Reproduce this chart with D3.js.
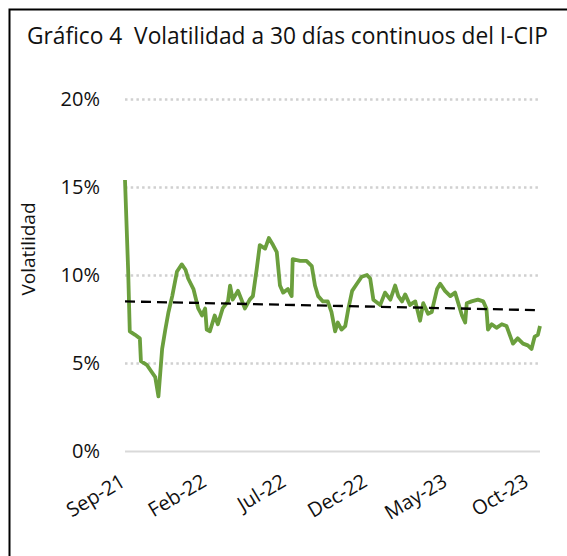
<!DOCTYPE html>
<html>
<head>
<meta charset="utf-8">
<script src="https://cdn.jsdelivr.net/npm/d3@7"></script>
<style>
  html, body { margin: 0; padding: 0; background: #fff; }
  svg { display: block; font-family: "Open Sans", "Noto Sans", sans-serif; }
</style>
</head>
<body>
<div id="chart"></div>
<script>
const width = 567;
const height = 556;

// series: 30-day volatility of the I-CIP (%)
const volDates = [
  "2021-09-01","2021-09-07","2021-09-10","2021-09-20","2021-09-29","2021-10-01","2021-10-12","2021-10-21",
  "2021-10-28","2021-11-03","2021-11-10","2021-11-16","2021-11-22","2021-11-29","2021-12-08","2021-12-17",
  "2021-12-24","2021-12-29","2022-01-08","2022-01-17","2022-01-24","2022-01-30","2022-02-02","2022-02-08",
  "2022-02-17","2022-02-23","2022-03-04","2022-03-14","2022-03-18","2022-03-23","2022-04-02","2022-04-15",
  "2022-04-24","2022-04-30","2022-05-07","2022-05-13","2022-05-23","2022-05-30","2022-06-07","2022-06-14",
  "2022-06-20","2022-06-26","2022-07-05","2022-07-12","2022-07-14","2022-07-28","2022-08-09","2022-08-19",
  "2022-08-25","2022-08-31","2022-09-09","2022-09-18","2022-09-25","2022-10-02","2022-10-07","2022-10-14",
  "2022-10-21","2022-10-27","2022-11-03","2022-11-12","2022-11-21","2022-12-01","2022-12-07","2022-12-13",
  "2022-12-26","2023-01-04","2023-01-14","2023-01-23","2023-01-29","2023-02-05","2023-02-11","2023-02-20",
  "2023-03-02","2023-03-11","2023-03-17","2023-03-26","2023-04-02","2023-04-05","2023-04-12","2023-04-18",
  "2023-04-27","2023-05-07","2023-05-16","2023-05-22","2023-05-29","2023-06-04","2023-06-07","2023-06-16",
  "2023-06-28","2023-07-08","2023-07-14","2023-07-17","2023-07-24","2023-08-02","2023-08-12","2023-08-21",
  "2023-08-27","2023-09-02","2023-09-11","2023-09-21","2023-09-30","2023-10-07","2023-10-13","2023-10-19",
  "2023-10-23"
];
const volValues = [
  15.4, 10.2, 6.8, 6.6, 6.4, 5.1, 4.9, 4.5,
  4.2, 3.1, 5.8, 6.9, 7.9, 8.8, 10.2, 10.6,
  10.3, 9.8, 9.2, 8.1, 7.7, 8.1, 6.9, 6.8,
  7.7, 7.2, 8.1, 8.5, 9.4, 8.6, 9.1, 8.1,
  8.6, 8.8, 10.3, 11.7, 11.5, 12.1, 11.7, 11.3,
  9.4, 9.0, 9.2, 8.8, 10.9, 10.8, 10.8, 10.5,
  9.4, 8.8, 8.5, 8.5, 7.9, 6.8, 7.3, 6.9,
  7.1, 8.1, 9.1, 9.5, 9.9, 10.0, 9.8, 8.6,
  8.3, 9.0, 8.6, 9.4, 8.8, 8.5, 8.9, 8.3,
  8.5, 7.4, 8.4, 7.8, 7.9, 8.3, 9.2, 9.5,
  9.1, 8.8, 9.0, 8.4, 7.7, 7.3, 8.4, 8.5,
  8.6, 8.5, 8.1, 6.9, 7.2, 7.0, 7.2, 7.1,
  6.6, 6.1, 6.4, 6.1, 6.0, 5.8, 6.5, 6.6,
  7.1
];

// linear trend
const trendDates = ["2021-09-01", "2023-10-23"];
const trendValues = [8.5, 8.0];

const yTicks = [0, 5, 10, 15, 20];
const xTickDates = ["2021-09-01","2022-02-01","2022-07-01","2022-12-01","2023-05-01","2023-10-01"];
const xTickLabels = ["Sep-21","Feb-22","Jul-22","Dec-22","May-23","Oct-23"];

const titleText = "Gráfico 4  Volatilidad a 30 días continuos del I-CIP";
const yTitle = "Volatilidad";

const parse = d3.timeParse("%Y-%m-%d");
const data = volDates.map((d, i) => ({ date: parse(d), value: volValues[i] }));
const trend = trendDates.map((d, i) => ({ date: parse(d), value: trendValues[i] }));

const plot = { left: 125, right: 540, top: 99, bottom: 451 };

const x = d3.scaleTime()
  .domain([parse(volDates[0]), parse(volDates[volDates.length - 1])])
  .range([plot.left, plot.right]);

const y = d3.scaleLinear()
  .domain([0, 20])
  .range([plot.bottom, plot.top]);

const svg = d3.select("#chart")
  .append("svg")
  .attr("width", width)
  .attr("height", height);

svg.append("rect")
  .attr("width", width)
  .attr("height", height)
  .attr("fill", "#fff");

// frame (left and top edges visible)
svg.append("rect")
  .attr("x", 9.5)
  .attr("y", 9.5)
  .attr("width", 700)
  .attr("height", 700)
  .attr("fill", "none")
  .attr("stroke", "#000")
  .attr("stroke-width", 2);

// title, fitted to the width of the original
const title = svg.append("text")
  .attr("x", 27)
  .attr("y", 44)
  .attr("font-size", 20)
  .attr("fill", "#111")
  .attr("xml:space", "preserve")
  .style("white-space", "pre")
  .text(titleText);
const tw = title.node().getComputedTextLength();
title.attr("font-size", 20 * 521 / tw);

// gridlines
const grid = svg.append("g")
  .attr("transform", "translate(" + plot.left + ",0)")
  .call(d3.axisRight(y).tickValues(yTicks).tickSize(plot.right - plot.left).tickFormat(""));
grid.select(".domain").remove();
grid.selectAll(".tick line")
  .attr("stroke", d => d === 0 ? "#d9d9d9" : "#d0d0d0")
  .attr("stroke-width", d => d === 0 ? 2 : 2.5)
  .attr("stroke-dasharray", d => d === 0 ? null : "2.5,3.2");

// y axis labels
const yAxis = svg.append("g")
  .attr("transform", "translate(100,0)")
  .call(d3.axisLeft(y).tickValues(yTicks).tickSize(0).tickPadding(0).tickFormat(d => d + "%"));
yAxis.select(".domain").remove();
yAxis.selectAll("text")
  .attr("font-family", "Open Sans, sans-serif")
  .attr("font-size", 20)
  .attr("fill", "#111");

svg.append("text")
  .attr("transform", "translate(35,249) rotate(-90)")
  .attr("text-anchor", "middle")
  .attr("font-size", 19)
  .attr("fill", "#111")
  .text(yTitle);

// x axis labels
const xAxis = svg.append("g")
  .attr("transform", "translate(0," + plot.bottom + ")")
  .call(d3.axisBottom(x)
    .tickValues(xTickDates.map(parse))
    .tickSize(0)
    .tickFormat((d, i) => xTickLabels[i]));
xAxis.select(".domain").remove();
xAxis.selectAll("text")
  .attr("font-family", "Open Sans, sans-serif")
  .attr("font-size", 20)
  .attr("fill", "#111")
  .attr("text-anchor", "end")
  .attr("x", 1)
  .attr("y", 34)
  .attr("dy", 0)
  .attr("transform", "rotate(-31 1 34)");

// series line
const line = d3.line()
  .x(d => x(d.date))
  .y(d => y(d.value));

svg.append("path")
  .datum(data)
  .attr("fill", "none")
  .attr("stroke", "#6b9f3d")
  .attr("stroke-width", 3.8)
  .attr("stroke-linejoin", "round")
  .attr("d", line);

// trend line
svg.append("path")
  .datum(trend)
  .attr("fill", "none")
  .attr("stroke", "#000")
  .attr("stroke-width", 2.3)
  .attr("stroke-dasharray", "10,6")
  .attr("d", line);
</script>
</body>
</html>
